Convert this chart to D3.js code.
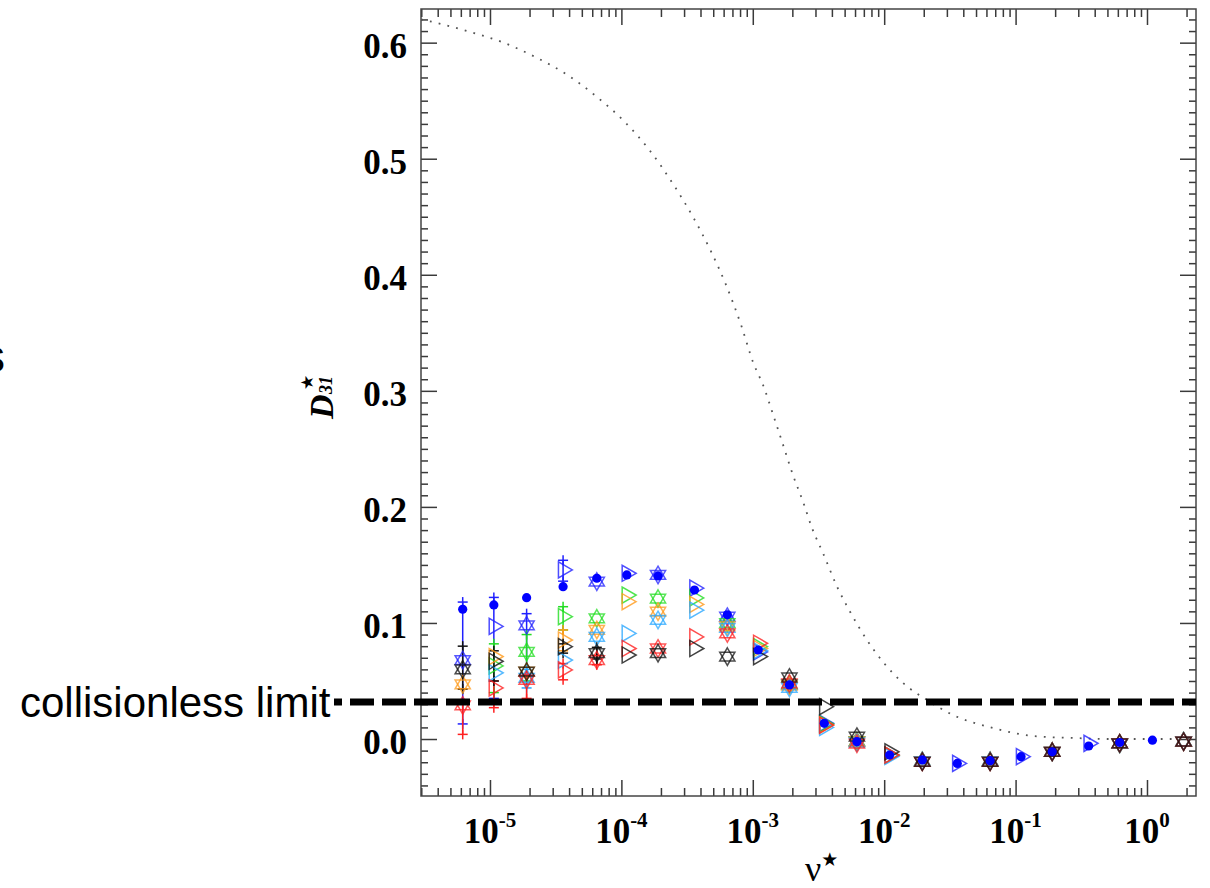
<!DOCTYPE html>
<html lang="en">
<head>
    <meta charset="UTF-8">
    <title>D31 coefficient vs collisionality</title>
    <script src="https://d3js.org/d3.v7.min.js"></script>
    <style>
        html, body {
            margin: 0;
            padding: 0;
            overflow: hidden;
            background: #fff;
        }
        #chart text {
            fill: #000;
        }
    </style>
</head>
<body>
    <svg id="chart" width="1210" height="888"></svg>

    <script>
        // theory curve (dotted)
        const theoryNu = [2.99e-6, 3.49e-6, 6.68e-6, 1.23e-5, 2.24e-5, 3.93e-5, 6.52e-5, 1.05e-4, 1.62e-4,
            2.56e-4, 3.57e-4, 4.81e-4, 6.25e-4, 8.22e-4, 1.00e-3, 1.22e-3, 1.43e-3, 1.75e-3, 2.02e-3,
            2.41e-3, 2.82e-3, 3.42e-3, 4.38e-3, 5.50e-3, 7.40e-3, 9.95e-3, 1.39e-2, 2.12e-2, 3.34e-2,
            6.73e-2, 0.136, 0.274, 0.551, 2.36];
        const theoryD = [0.620, 0.6184, 0.610, 0.6006, 0.5873, 0.5718, 0.5532, 0.5322, 0.5080,
            0.4756, 0.4483, 0.4201, 0.3914, 0.3554, 0.3253, 0.3026, 0.2793, 0.2491, 0.2276,
            0.2046, 0.1819, 0.1603, 0.1313, 0.1097, 0.0853, 0.0655, 0.0483, 0.0336, 0.0207,
            0.0095, 0.0026, 0.0009, 0.0, 0.0];

        const collisionlessLimit = 0.032;

        // columns drawn with up+down triangles
        const nuHex = [6.2e-6, 1.9e-5, 6.5e-5, 1.9e-4, 6.4e-4, 1.9e-3, 6.2e-3, 1.95e-2, 6.4e-2, 0.19, 0.62, 1.9];
        const hexBlue      = [0.068, 0.098, 0.1356, 0.1414, 0.1054, 0.047, -0.002, -0.019, -0.019, -0.011, -0.004, -0.002];
        const hexGreen     = [null, 0.075, 0.104, 0.121, 0.0998, 0.047, -0.002, -0.019, -0.019, -0.011, -0.004, -0.002];
        const hexOrange    = [0.047, 0.058, 0.094, 0.1097, 0.097, 0.046, -0.002, -0.019, -0.019, -0.011, -0.004, -0.002];
        const hexLightBlue = [null, 0.0526, 0.088, 0.1026, 0.0957, 0.044, -0.003, -0.019, -0.019, -0.011, -0.004, -0.002];
        const hexRed       = [0.029, 0.051, 0.068, 0.078, 0.091, 0.048, -0.004, -0.0196, -0.0196, -0.011, -0.0037, -0.0023];
        const hexBlack     = [0.060, 0.058, 0.074, 0.074, 0.071, 0.053, 0.002, -0.0196, -0.0196, -0.011, -0.0037, -0.0023];

        // columns drawn with right-pointing triangles
        const nuTri = [1.07e-5, 3.6e-5, 1.1e-4, 3.6e-4, 1.1e-3, 3.5e-3, 1.1e-2, 3.6e-2, 0.11, 0.36];
        const triBlue      = [0.097, 0.1457, 0.1428, 0.130, 0.075, 0.0135, -0.0138, -0.021, -0.0152, -0.0037];
        const triGreen     = [0.063, 0.1054, 0.124, 0.1216, 0.0796, 0.013, -0.014, null, null, null];
        const triOrange    = [0.071, 0.0853, 0.1183, 0.116, 0.078, 0.012, -0.014, null, null, null];
        const triLightBlue = [0.057, 0.068, 0.091, 0.111, 0.076, 0.010, -0.015, null, null, null];
        const triRed       = [0.044, 0.0595, 0.078, 0.088, 0.0825, 0.012, -0.0138, null, null, null];
        const triBlack     = [0.067, 0.0796, 0.0724, 0.078, 0.071, 0.0279, -0.011, null, null, null];

        // filled blue dots
        const dotNu = [6.2e-6, 1.07e-5, 1.9e-5, 3.6e-5, 6.5e-5, 1.1e-4, 1.9e-4, 3.6e-4, 6.4e-4, 1.1e-3, 1.9e-3,
            3.5e-3, 6.2e-3, 1.1e-2, 1.95e-2, 3.6e-2, 6.4e-2, 0.11, 0.19, 0.36, 0.62, 1.1];
        const dotD = [0.1118, 0.1155, 0.1218, 0.1313, 0.1385, 0.1414, 0.1405, 0.1284, 0.107, 0.0767, 0.0466,
            0.0135, -0.0023, -0.0138, -0.018, -0.021, -0.0187, -0.0152, -0.011, -0.006, -0.003, -0.001];

        // error bars: [nu, low, high]
        const errBlue = [[6.2e-6, 0.013, 0.118], [1.07e-5, 0.035, 0.122], [1.9e-5, 0.055, 0.108], [3.6e-5, 0.136, 0.154]];
        const errGreen = [[1.07e-5, 0.040, 0.082], [1.9e-5, 0.050, 0.090], [3.6e-5, 0.094, 0.114]];
        const errOrange = [[3.6e-5, 0.076, 0.094]];
        const errLightBlue = [[1.9e-5, 0.044, 0.060]];
        const errRed = [[6.2e-6, 0.004, 0.030], [1.07e-5, 0.027, 0.050], [1.9e-5, 0.035, 0.055], [3.6e-5, 0.051, 0.065], [6.5e-5, 0.064, 0.072]];
        const errBlack = [[6.2e-6, 0.043, 0.080], [1.07e-5, 0.050, 0.076], [3.6e-5, 0.074, 0.082], [6.5e-5, 0.069, 0.079]];

        const yMajor = [0, 0.1, 0.2, 0.3, 0.4, 0.5, 0.6];
        const yLabels = ["0.0", "0.1", "0.2", "0.3", "0.4", "0.5", "0.6"];
        const xExponents = [-5, -4, -3, -2, -1, 0];

        const svg = d3.select("#chart");
        const box = {left: 421, right: 1196, top: 9, bottom: 796};

        const x = d3.scaleLog().domain([Math.pow(10, -5.525), Math.pow(10, 0.373)]).range([box.left, box.right]);
        const y = d3.scaleLinear().domain([-0.0491, 0.629]).range([box.bottom, box.top]);

        const serif = "'Liberation Serif', 'Times New Roman', serif";
        const sans = "'Liberation Sans', Arial, sans-serif";
        const tickColor = "#3a3a3a";

        // minor tick positions
        const yMinor = d3.range(-4, 63).map(i => i / 100).filter(v => Math.abs(v * 10 - Math.round(v * 10)) > 1e-6);
        const xMinor = [];
        for (let e = -6; e <= 0; e++) {
            for (let m = 2; m <= 9; m++) {
                const v = m * Math.pow(10, e);
                if (v >= x.domain()[0] && v <= x.domain()[1]) xMinor.push(v);
            }
        }
        const xMajor = xExponents.map(e => Math.pow(10, e));

        function styleAxis(g) {
            g.select(".domain").remove();
            g.selectAll(".tick line").attr("stroke", tickColor).attr("stroke-width", 1.5);
        }

        // inward ticks on all four sides
        svg.append("g").attr("transform", `translate(${box.left},0)`)
            .call(d3.axisLeft(y).tickValues(yMinor).tickSize(-7).tickFormat(""))
            .call(styleAxis);
        const yAxisLeft = svg.append("g").attr("transform", `translate(${box.left},0)`)
            .call(d3.axisLeft(y).tickValues(yMajor).tickSize(-16).tickPadding(14)
                .tickFormat((d, i) => yLabels[i]))
            .call(styleAxis);
        yAxisLeft.selectAll(".tick text")
            .attr("font-family", serif).attr("font-weight", "bold").attr("font-size", 35)
            .attr("dy", "0.42em").attr("fill", "#000");

        svg.append("g").attr("transform", `translate(${box.right},0)`)
            .call(d3.axisRight(y).tickValues(yMinor).tickSize(-7).tickFormat(""))
            .call(styleAxis);
        svg.append("g").attr("transform", `translate(${box.right},0)`)
            .call(d3.axisRight(y).tickValues(yMajor).tickSize(-16).tickFormat(""))
            .call(styleAxis);

        svg.append("g").attr("transform", `translate(0,${box.bottom})`)
            .call(d3.axisBottom(x).tickValues(xMinor).tickSize(-8).tickFormat(""))
            .call(styleAxis);
        svg.append("g").attr("transform", `translate(0,${box.bottom})`)
            .call(d3.axisBottom(x).tickValues(xMajor).tickSize(-16).tickFormat(""))
            .call(styleAxis);
        svg.append("g").attr("transform", `translate(0,${box.top})`)
            .call(d3.axisTop(x).tickValues(xMinor).tickSize(-8).tickFormat(""))
            .call(styleAxis);
        svg.append("g").attr("transform", `translate(0,${box.top})`)
            .call(d3.axisTop(x).tickValues(xMajor).tickSize(-16).tickFormat(""))
            .call(styleAxis);

        // frame
        svg.append("rect")
            .attr("x", box.left).attr("y", box.top)
            .attr("width", box.right - box.left).attr("height", box.bottom - box.top)
            .attr("fill", "none").attr("stroke", "#444").attr("stroke-width", 1.5);

        // x tick labels 10^n
        const xLab = svg.append("g").selectAll("text").data(xExponents).join("text")
            .attr("x", d => x(Math.pow(10, d)))
            .attr("y", 843)
            .attr("text-anchor", "middle")
            .attr("font-family", serif).attr("font-weight", "bold").attr("font-size", 35);
        xLab.append("tspan").text("10");
        xLab.append("tspan").attr("dy", -16).attr("font-size", 21).text(d => d < 0 ? "-" + (-d) : d);

        // axis titles
        const xt = svg.append("text").attr("x", 805).attr("y", 881).attr("font-family", serif).attr("font-size", 36);
        xt.append("tspan").text("ν");
        xt.append("tspan").attr("dy", -15).attr("font-size", 19).attr("font-family", "'DejaVu Sans', sans-serif").text("★");

        const yt = svg.append("g").attr("transform", "translate(333,419) rotate(-90)");
        yt.append("text").attr("x", 0).attr("y", 0)
            .attr("font-family", serif).attr("font-weight", "bold").attr("font-style", "italic").attr("font-size", 34)
            .text("D");
        yt.append("text").attr("x", 29).attr("y", -20)
            .attr("font-family", "'DejaVu Sans', sans-serif").attr("font-size", 17)
            .text("★");
        yt.append("text").attr("x", 25).attr("y", -1)
            .attr("font-family", serif).attr("font-weight", "bold").attr("font-style", "italic").attr("font-size", 18)
            .text("31");

        // theory curve
        const theoryLine = d3.line()
            .x(d => x(d[0])).y(d => y(d[1]))
            .curve(d3.curveMonotoneX);
        svg.append("path")
            .datum(d3.zip(theoryNu, theoryD))
            .attr("d", theoryLine)
            .attr("fill", "none")
            .attr("stroke", "#555")
            .attr("stroke-width", 1.8)
            .attr("stroke-dasharray", "1.8,7.2");

        const colors = {
            blue: "#2020ff",
            green: "#22dd22",
            orange: "#ff9a1a",
            lightBlue: "#2aa8ff",
            red: "#ff2020",
            black: "#111111"
        };

        const plot = svg.append("g");

        // error bars with + caps
        function drawErrors(data, color) {
            const g = plot.append("g").attr("stroke", color).attr("stroke-width", 1.5).attr("fill", "none");
            data.forEach(d => {
                const cx = x(d[0]);
                g.append("line").attr("x1", cx).attr("x2", cx).attr("y1", y(d[1])).attr("y2", y(d[2]));
                [d[1], d[2]].forEach(v => {
                    const cy = y(v);
                    g.append("line").attr("x1", cx - 5).attr("x2", cx + 5).attr("y1", cy).attr("y2", cy);
                    g.append("line").attr("x1", cx).attr("x2", cx).attr("y1", cy - 5).attr("y2", cy + 5);
                });
            });
        }

        const triUp = d3.symbol().type(d3.symbolTriangle).size(100);
        const triRight = d3.symbol().type(d3.symbolTriangle).size(112);

        function drawHex(vals, color) {
            const pts = d3.zip(nuHex, vals).filter(d => d[1] !== null);
            const g = plot.append("g").attr("stroke", color).attr("stroke-width", 1.5)
                .attr("fill", "none").attr("stroke-opacity", 0.75);
            g.selectAll("path.up").data(pts).join("path").attr("class", "up")
                .attr("transform", d => `translate(${x(d[0])},${y(d[1])})`)
                .attr("d", triUp);
            g.selectAll("path.down").data(pts).join("path").attr("class", "down")
                .attr("transform", d => `translate(${x(d[0])},${y(d[1])}) rotate(180)`)
                .attr("d", triUp);
        }

        function drawTri(vals, color) {
            const pts = d3.zip(nuTri, vals).filter(d => d[1] !== null);
            plot.append("g").attr("stroke", color).attr("stroke-width", 1.5)
                .attr("fill", "none").attr("stroke-opacity", 0.8)
                .selectAll("path").data(pts).join("path")
                .attr("transform", d => `translate(${x(d[0])},${y(d[1])}) rotate(90)`)
                .attr("d", triRight);
        }

        drawErrors(errBlue, colors.blue);
        drawErrors(errGreen, colors.green);
        drawErrors(errOrange, colors.orange);
        drawErrors(errLightBlue, colors.lightBlue);
        drawErrors(errRed, colors.red);
        drawErrors(errBlack, colors.black);

        drawHex(hexBlue, colors.blue);
        drawHex(hexGreen, colors.green);
        drawHex(hexOrange, colors.orange);
        drawHex(hexLightBlue, colors.lightBlue);
        drawHex(hexRed, colors.red);
        drawHex(hexBlack, colors.black);

        drawTri(triBlue, colors.blue);
        drawTri(triGreen, colors.green);
        drawTri(triOrange, colors.orange);
        drawTri(triLightBlue, colors.lightBlue);
        drawTri(triRed, colors.red);
        drawTri(triBlack, colors.black);

        plot.append("g").selectAll("circle").data(d3.zip(dotNu, dotD)).join("circle")
            .attr("cx", d => x(d[0])).attr("cy", d => y(d[1]))
            .attr("r", 4.6).attr("fill", "#0000ff");

        // collisionless limit
        svg.append("line")
            .attr("x1", 334).attr("x2", box.right)
            .attr("y1", y(collisionlessLimit)).attr("y2", y(collisionlessLimit))
            .attr("stroke", "#000").attr("stroke-width", 7)
            .attr("stroke-dasharray", "24,8").attr("stroke-dashoffset", 16);
        svg.append("text")
            .attr("x", 20).attr("y", y(collisionlessLimit) + 15)
            .attr("font-family", sans).attr("font-size", 42)
            .text("collisionless limit");

        // clipped text fragment at the left edge
        svg.append("text")
            .attr("x", 5).attr("y", 372).attr("text-anchor", "end")
            .attr("font-family", sans).attr("font-size", 46)
            .text("s");
    </script>
</body>
</html>
